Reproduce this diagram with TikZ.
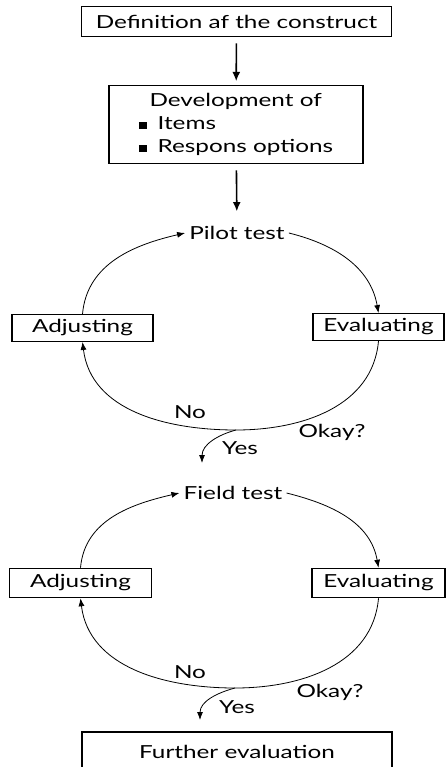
\documentclass[tikz,border=0pt]{standalone}
\usepackage{fontspec}
\setmainfont{Lato}[FakeStretch=1.35]
\usetikzlibrary{arrows.meta}
\tikzset{
  box/.style={draw,line width=0.9pt,inner sep=0pt,font=\fontsize{13.5}{17.25}\selectfont},
  lbl/.style={inner sep=3pt,font=\fontsize{13.5}{16}\selectfont},
  flow/.style={line width=1.2pt,-{Latex[length=7pt,width=6pt]}},
  cyc/.style={line width=0.6pt,-{Latex[length=6pt,width=4.5pt]}}
}
\newcommand{\sqbullet}{\rule[0.5pt]{6pt}{5pt}\hspace{8pt}}

\begin{document}
\begin{tikzpicture}[x=0.75pt,y=-0.75pt]
\useasboundingbox (0,0) rectangle (447,767);
\node[box,minimum width=233pt,minimum height=23pt] (def) at (236.5,21.5) {Definition af the construct};
\node[box,minimum width=190.5pt,minimum height=58pt,align=left] (dev) at (236,124.5) {\hspace*{8pt}Development of\\\sqbullet Items\\\sqbullet Respons options};
\draw[flow,shorten <=4.5pt,shorten >=3pt] (def) -- (dev);

\node[lbl] (pilot) at (237,233) {Pilot test};
\node[box,minimum width=105.75pt,minimum height=20pt] (adj1) at (82.5,328) {Adjusting};
\node[box,minimum width=98.25pt,minimum height=20pt] (eval1) at (378.5,327) {Evaluating};
\coordinate (ok1) at (236,430);
\coordinate (yes1) at (202,463);
\draw[flow,shorten <=5pt,shorten >=8pt] (dev) -- (pilot);
\draw[cyc] (adj1.north) to[out=85,in=193] (pilot.west);
\draw[cyc] (pilot.east) to[out=-14,in=100] (eval1.north);
\draw[cyc] (eval1.south) to[out=-95,in=0] (ok1) to[out=180,in=-83] (adj1.south);
\draw[cyc] (ok1) to[out=195,in=90] (yes1);
\node[lbl] (no1) at (190,412) {No};
\node[lbl] (okay1) at (332,432) {Okay?};
\node[lbl] (yestxt1) at (240,448) {Yes};

\node[lbl] (field) at (233,493) {Field test};
\node[box,minimum width=107pt,minimum height=22pt] (adj2) at (80.5,583) {Adjusting};
\node[box,minimum width=99.75pt,minimum height=22pt] (eval2) at (378.5,583) {Evaluating};
\coordinate (ok2) at (235,688);
\coordinate (yes2) at (200,720);
\draw[cyc] (adj2.north) to[out=85,in=193] (field.west);
\draw[cyc] (field.east) to[out=-14,in=100] (eval2.north);
\draw[cyc] (eval2.south) to[out=-95,in=0] (ok2) to[out=180,in=-83] (adj2.south);
\draw[cyc] (ok2) to[out=195,in=90] (yes2);
\node[lbl] (no2) at (190,672) {No};
\node[lbl] (okay2) at (330,692) {Okay?};
\node[lbl] (yestxt2) at (237,707) {Yes};

\node[box,minimum width=232.5pt,minimum height=30pt] (further) at (237,752) {Further evaluation};
\end{tikzpicture}
\end{document}
